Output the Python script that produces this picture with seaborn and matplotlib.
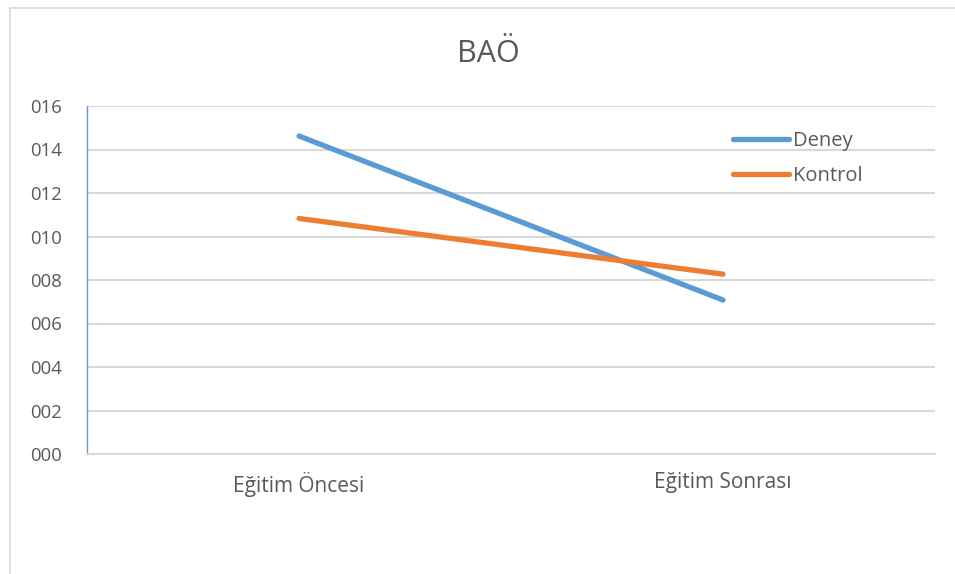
import matplotlib
matplotlib.use("Agg")
import matplotlib.pyplot as plt
from matplotlib.patches import Rectangle
from matplotlib.lines import Line2D
import pandas as pd
import seaborn as sns

# Chart data
title = "BAÖ"
phases = ["Eğitim Öncesi", "Eğitim Sonrası"]
deney = [14.62, 7.08]
kontrol = [10.83, 8.27]
y_ticks = [0, 2, 4, 6, 8, 10, 12, 14, 16]
y_tick_labels = ["000", "002", "004", "006", "008", "010", "012", "014", "016"]

df = pd.DataFrame({
    "Aşama": phases * 2,
    "Puan": deney + kontrol,
    "Grup": ["Deney"] * len(phases) + ["Kontrol"] * len(phases),
})

sns.set_theme(style="white")
plt.rcParams["font.family"] = ["Open Sans", "DejaVu Sans"]

text_color = "#595959"
grid_color = "#D9D9D9"
palette = {"Deney": "#5B9BD5", "Kontrol": "#ED7D31"}

fig = plt.figure(figsize=(9.55, 5.74), dpi=100)
ax = fig.add_axes([87 / 955, 120 / 574, (935 - 87) / 955, (454 - 106) / 574])

sns.lineplot(data=df, x="Aşama", y="Puan", hue="Grup", palette=palette,
             linewidth=3.8, sort=False, ax=ax, legend=False,
             solid_capstyle="round")

ax.set_xlim(-0.5, 1.5)
ax.set_ylim(0, 16)
ax.set_yticks(y_ticks)
ax.set_yticklabels(y_tick_labels)
ax.set_xlabel("")
ax.set_ylabel("")
ax.tick_params(axis="both", length=0, colors=text_color)
ax.tick_params(axis="y", labelsize=13.3, pad=18)
ax.tick_params(axis="x", labelsize=15, pad=13)

ax.yaxis.grid(True, color=grid_color, linewidth=1.5)
ax.set_axisbelow(True)
for side in ["top", "right"]:
    ax.spines[side].set_visible(False)
ax.spines["bottom"].set_color(grid_color)
ax.spines["bottom"].set_linewidth(1.5)
ax.spines["left"].set_color("#5B9BD5")
ax.spines["left"].set_linewidth(1.0)

handles = [Line2D([0], [0], color=palette[g], linewidth=3.8, solid_capstyle="round")
           for g in ["Deney", "Kontrol"]]
leg = ax.legend(handles, ["Deney", "Kontrol"], loc="upper left",
                bbox_to_anchor=(0.752, 0.95), frameon=False, fontsize=14.5,
                handlelength=2.8, handletextpad=0.2, labelspacing=0.72,
                borderaxespad=0)
for t in leg.get_texts():
    t.set_color(text_color)

fig.text(0.5115, 1 - 62 / 574, title, ha="center", va="baseline",
         fontsize=22, color=text_color)

# Chart frame
fig.add_artist(Rectangle((10 / 955, -0.1), 1.0, 1 - 8 / 574 + 0.1,
                         transform=fig.transFigure, fill=False,
                         edgecolor=grid_color, linewidth=1.2))

fig.savefig("out.png", dpi=100)
